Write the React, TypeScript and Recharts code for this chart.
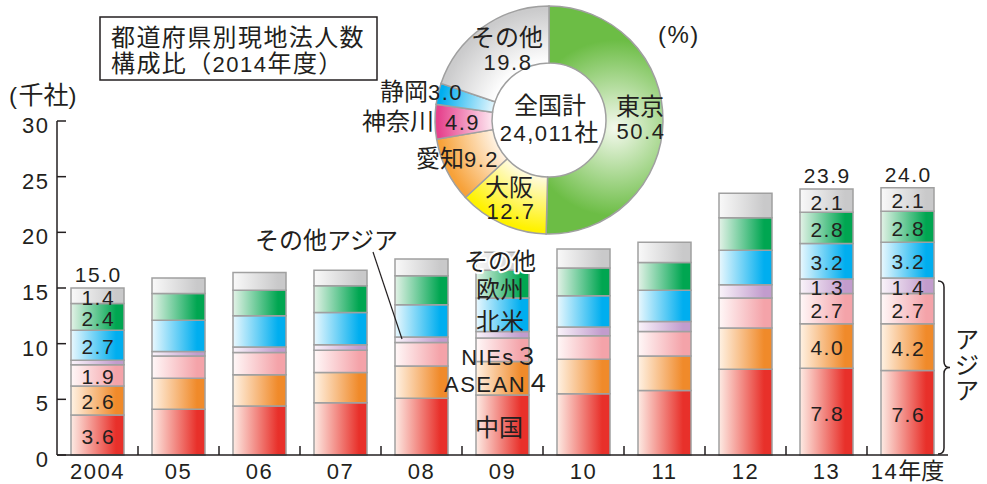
import React from "react";
import { BarChart, Bar, XAxis, YAxis, LabelList, PieChart, Pie, Cell } from "recharts";

// 海外現地法人数（千社）: 地域別の積み上げ
const years = ["2004", "05", "06", "07", "08", "09", "10", "11", "12", "13", "14年度"];
const china = [3.6, 4.1, 4.4, 4.7, 5.1, 5.4, 5.5, 5.8, 7.7, 7.8, 7.6];
const asean4 = [2.6, 2.8, 2.8, 2.7, 2.9, 3.0, 3.1, 3.1, 3.7, 4.0, 4.2];
const nies3 = [1.9, 2.0, 2.0, 2.0, 2.1, 2.1, 2.1, 2.2, 2.7, 2.7, 2.7];
const otherAsia = [0.4, 0.4, 0.5, 0.5, 0.5, 0.6, 0.8, 0.9, 1.2, 1.3, 1.4];
const northAmerica = [2.7, 2.8, 2.8, 2.9, 2.9, 3.0, 2.8, 2.8, 3.1, 3.2, 3.2];
const europe = [2.4, 2.4, 2.3, 2.4, 2.6, 2.5, 2.5, 2.5, 2.9, 2.8, 2.8];
const others = [1.4, 1.4, 1.6, 1.4, 1.5, 1.6, 1.7, 1.8, 2.2, 2.1, 2.1];
const yTicks = [0, 5, 10, 15, 20, 25, 30];
// years whose segments carry value labels
const labelledYears = [0, 9, 10];

// 都道府県別現地法人数構成比（2014年度, %）
const prefectures = ["東京", "大阪", "愛知", "神奈川", "静岡", "その他"];
const prefectureShares = [50.4, 12.7, 9.2, 4.9, 3.0, 19.8];
const nationalTotal = 24011;

const W = 987;
const H = 484;
const PLOT = { left: 57, right: 948, top: 121, bottom: 455 };
const FONT = "'Liberation Sans', 'Noto Sans CJK JP', sans-serif";
const INK = "#231f20";
const EDGE = "#a0a0a0";

const series = [
  { key: "china", values: china, light: "#fdebe4", dark: "#e8302a" },
  { key: "asean4", values: asean4, light: "#fff2e4", dark: "#f08a2a" },
  { key: "nies3", values: nies3, light: "#fff8f8", dark: "#f4a3a9" },
  { key: "otherAsia", values: otherAsia, light: "#faf4fa", dark: "#c29ccd" },
  { key: "northAmerica", values: northAmerica, light: "#eaf8fe", dark: "#00aeef" },
  { key: "europe", values: europe, light: "#e3f2e7", dark: "#00a651" },
  { key: "others", values: others, light: "#f9f9f9", dark: "#c9c9ca" },
];

const rows = years.map((year, i) => {
  const row: Record<string, number | string> = { year };
  let total = 0;
  series.forEach((s) => {
    row[s.key] = s.values[i];
    total += s.values[i];
  });
  row.total = Math.round(total * 10) / 10;
  return row;
});

const pieRows = prefectures.map((name, i) => ({ name, value: prefectureShares[i] }));
const pieColors = [
  { light: "#f4f9ee", dark: "#6cbd45" },
  { light: "#fffbe2", dark: "#fff200" },
  { light: "#fff3e3", dark: "#f7a23a" },
  { light: "#fde6f0", dark: "#e6428d" },
  { light: "#e4f6fd", dark: "#00aeef" },
  { light: "#ffffff", dark: "#cbcbcc" },
];
const PIE = { cx: 549, cy: 120, inner: 57, outer: 114 };

// Text mixing CJK runs and Latin runs at different sizes
function Mixed({
  text,
  cjk = 24,
  latin = 22,
  cjkSpacing = 0,
  halo = false,
  ...rest
}: {
  text: string;
  cjk?: number;
  latin?: number;
  cjkSpacing?: number;
  halo?: boolean;
  [k: string]: any;
}) {
  const parts = text.match(/[\x20-\x7e]+|[^\x20-\x7e]+/g) || [];
  return (
    <text
      fontFamily={FONT}
      fill={INK}
      stroke={halo ? "#ffffff" : "none"}
      strokeWidth={halo ? 4 : 0}
      strokeLinejoin="round"
      paintOrder="stroke"
      {...rest}
    >
      {parts.map((p, i) =>
        /^[\x20-\x7e]/.test(p) ? (
          <tspan key={i} fontSize={latin} letterSpacing={1.5}>
            {p}
          </tspan>
        ) : (
          <tspan key={i} fontSize={cjk} letterSpacing={cjkSpacing}>
            {p}
          </tspan>
        )
      )}
    </text>
  );
}

const band = (PLOT.right - PLOT.left) / years.length;

const XTick = (props: any) => {
  const { x, y, payload, index } = props;
  return (
    <g>
      {index < years.length - 1 && (
        <line x1={x + band / 2} x2={x + band / 2} y1={y} y2={y - 9} stroke={INK} strokeWidth={1.5} />
      )}
      <Mixed text={String(payload.value)} x={x} y={y + 24} textAnchor="middle" cjk={23} latin={22} />
    </g>
  );
};

const YTick = (props: any) => {
  const { x, y, payload } = props;
  return (
    <g>
      <line x1={x} x2={x + 9} y1={y} y2={y} stroke={INK} strokeWidth={1.5} />
      <text x={x - 7.5} y={y + 12} textAnchor="end" fontFamily={FONT} fontSize={22} letterSpacing={1.5} fill={INK}>
        {payload.value}
      </text>
    </g>
  );
};

const segmentLabel = (seriesIndex: number) => (props: any) => {
  const vb = props.viewBox || {};
  const x = props.x ?? vb.x;
  const y = props.y ?? vb.y;
  const width = props.width ?? vb.width;
  const height = props.height ?? vb.height;
  const { index, value } = props;
  if (!labelledYears.includes(index)) return null;
  if (seriesIndex === 3 && index === 0) return null;
  return (
    <text
      x={x + width / 2 + 0.75}
      y={y + height / 2 + 9}
      textAnchor="middle"
      fontFamily={FONT}
      fontSize={21}
      letterSpacing={1.5}
      fill={INK}
    >
      {Number(value).toFixed(1)}
    </text>
  );
};

const totalLabel = (props: any) => {
  const vb = props.viewBox || {};
  const x = props.x ?? vb.x;
  const y = props.y ?? vb.y;
  const width = props.width ?? vb.width;
  const { index, value } = props;
  if (!labelledYears.includes(index)) return null;
  return (
    <text
      x={x + width / 2 + 0.75}
      y={y - 6}
      textAnchor="middle"
      fontFamily={FONT}
      fontSize={21}
      letterSpacing={1.5}
      fill={INK}
    >
      {Number(value).toFixed(1)}
    </text>
  );
};

// curly brace grouping the Asian segments of the last bar
const bracePath = (x: number, y0: number, y1: number, d: number) => {
  const ym = (y0 + y1) / 2;
  return [
    `M ${x - d} ${y0}`,
    `Q ${x} ${y0} ${x} ${y0 + d}`,
    `L ${x} ${ym - d}`,
    `Q ${x} ${ym} ${x + d} ${ym}`,
    `Q ${x} ${ym} ${x} ${ym + d}`,
    `L ${x} ${y1 - d}`,
    `Q ${x} ${y1} ${x - d} ${y1}`,
  ].join(" ");
};

export default function App() {
  const pct = (i: number) => prefectureShares[i].toFixed(1);
  return (
    <div style={{ position: "absolute", left: 0, top: 0, width: W, height: H, background: "#ffffff" }}>
      <div style={{ position: "absolute", left: 0, top: 0 }}>
        <BarChart
          width={W}
          height={H}
          data={rows}
          margin={{ top: PLOT.top, right: W - PLOT.right, bottom: 0, left: 0 }}
        >
          <defs>
            {series.map((s) => (
              <linearGradient key={s.key} id={`bar-${s.key}`} x1="0" y1="0" x2="1" y2="0">
                <stop offset="0" stopColor={s.light} />
                <stop offset="0.85" stopColor={s.dark} />
                <stop offset="1" stopColor={s.dark} />
              </linearGradient>
            ))}
          </defs>
          <XAxis
            dataKey="year"
            height={H - PLOT.bottom}
            axisLine={{ stroke: INK, strokeWidth: 1.5 }}
            tickLine={false}
            tickSize={0}
            tickMargin={0}
            interval={0}
            tick={<XTick />}
          />
          <YAxis
            width={PLOT.left}
            domain={[0, 30]}
            ticks={yTicks}
            interval={0}
            axisLine={{ stroke: INK, strokeWidth: 1.5 }}
            tickLine={false}
            tickSize={0}
            tickMargin={0}
            tick={<YTick />}
          />
          {series.map((s, si) => (
            <Bar
              key={s.key}
              dataKey={s.key}
              stackId="region"
              barSize={53}
              fill={`url(#bar-${s.key})`}
              stroke={EDGE}
              strokeWidth={1.5}
              isAnimationActive={false}
            >
              <LabelList dataKey={s.key} content={segmentLabel(si)} />
              {si === series.length - 1 && <LabelList dataKey="total" content={totalLabel} />}
            </Bar>
          ))}
        </BarChart>
      </div>

      <div style={{ position: "absolute", left: 0, top: 0 }}>
        <PieChart width={W} height={H} margin={{ top: 0, right: 0, bottom: 0, left: 0 }}>
          <defs>
            <radialGradient id="pie-0" gradientUnits="userSpaceOnUse" cx={615} cy={128} r={88}>
              <stop offset="0" stopColor={pieColors[0].light} />
              <stop offset="1" stopColor={pieColors[0].dark} />
            </radialGradient>
            {pieColors.slice(1).map((c, i) => (
              <radialGradient
                key={i + 1}
                id={`pie-${i + 1}`}
                gradientUnits="userSpaceOnUse"
                cx={PIE.cx}
                cy={PIE.cy}
                r={PIE.outer}
              >
                <stop offset="0.5" stopColor={c.light} />
                <stop offset="0.97" stopColor={c.dark} />
              </radialGradient>
            ))}
          </defs>
          <Pie
            data={pieRows}
            dataKey="value"
            nameKey="name"
            cx={PIE.cx}
            cy={PIE.cy}
            innerRadius={PIE.inner}
            outerRadius={PIE.outer}
            startAngle={90}
            endAngle={-270}
            stroke={EDGE}
            strokeWidth={1.5}
            isAnimationActive={false}
          >
            {pieRows.map((r, i) => (
              <Cell key={r.name} fill={`url(#pie-${i})`} />
            ))}
          </Pie>
        </PieChart>
      </div>

      <svg width={W} height={H} style={{ position: "absolute", left: 0, top: 0, pointerEvents: "none" }}>
        {/* title box */}
        <rect x={100} y={17} width={277} height={63} fill="#ffffff" stroke={INK} strokeWidth={1.5} />
        <Mixed text="都道府県別現地法人数" x={111} y={46} cjkSpacing={1.4} />
        <Mixed text="構成比（2014年度）" x={111} y={71.5} cjkSpacing={1.4} />

        {/* units */}
        <Mixed text="(千社)" x={9} y={103.5} cjk={25} latin={24} />
        <Mixed text="(%)" x={658} y={42.5} latin={24} />

        {/* donut labels */}
        <Mixed text={prefectures[5]} x={507} y={45.5} textAnchor="middle" />
        <Mixed text={pct(5)} x={508} y={70} textAnchor="middle" />
        <Mixed text={`${prefectures[4]}${pct(4)}`} x={463} y={99.5} textAnchor="end" />
        <Mixed text={prefectures[3]} x={434} y={129.5} textAnchor="end" />
        <Mixed text={pct(3)} x={445} y={129.5} />
        <Mixed text={`${prefectures[2]}${pct(2)}`} x={499} y={166.5} textAnchor="end" />
        <Mixed text={prefectures[1]} x={509} y={195.5} textAnchor="middle" />
        <Mixed text={pct(1)} x={511} y={219} textAnchor="middle" />
        <Mixed text={prefectures[0]} x={640} y={114.5} textAnchor="middle" />
        <Mixed text={pct(0)} x={641} y={138.5} textAnchor="middle" />
        <Mixed text="全国計" x={550} y={113.5} textAnchor="middle" />
        <Mixed text={`${nationalTotal.toLocaleString("en-US")}社`} x={549} y={140.5} textAnchor="middle" />

        {/* region legend written over the 2009 bar */}
        <Mixed text="その他" x={500} y={269.5} textAnchor="middle" halo />
        <Mixed text="欧州" x={500} y={297.5} textAnchor="middle" />
        <Mixed text="北米" x={500} y={329.5} textAnchor="middle" />
        <Mixed text="NIEs３" x={500} y={364.5} textAnchor="middle" />
        <Mixed text="ASEAN４" x={497} y={391.5} textAnchor="middle" />
        <Mixed text="中国" x={499} y={435.5} textAnchor="middle" />

        {/* other Asia callout */}
        <Mixed text="その他アジア" x={255} y={248.5} />
        <line x1={373} y1={252} x2={402} y2={339} stroke={INK} strokeWidth={1.2} />

        {/* Asia brace */}
        <path d={bracePath(944, 281, 454, 6)} fill="none" stroke={INK} strokeWidth={1.5} />
        <Mixed text="ア" x={967} y={347.5} textAnchor="middle" />
        <Mixed text="ジ" x={967} y={373.5} textAnchor="middle" />
        <Mixed text="ア" x={967} y={398.5} textAnchor="middle" />
      </svg>
    </div>
  );
}
